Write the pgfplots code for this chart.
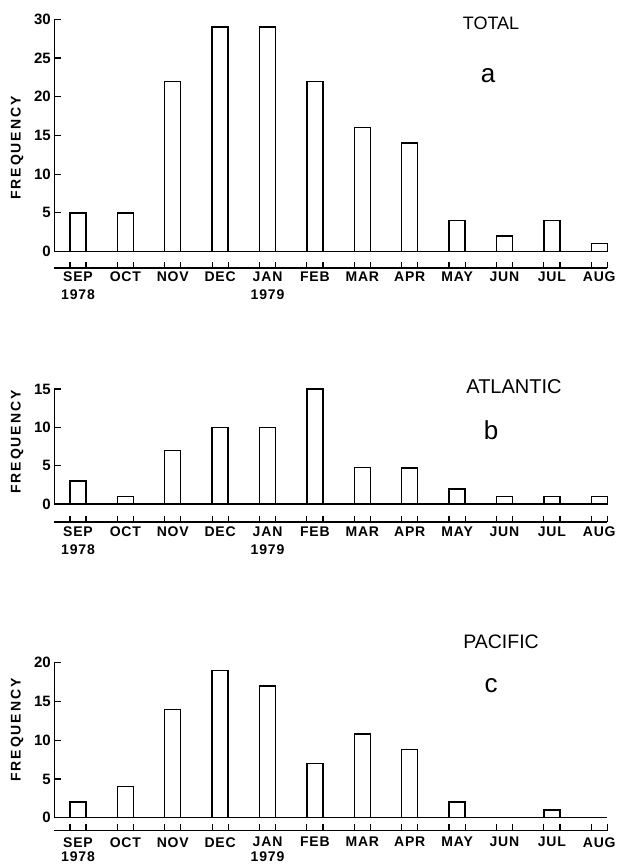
\documentclass[border=0pt]{standalone}
\usepackage{fontspec}
\setmainfont{Liberation Sans}
\usepackage{pgfplots}
\pgfplotsset{compat=1.18}
\begin{document}
\begin{tikzpicture}[x=1pt,y=1pt]
\path[use as bounding box] (0,0) rectangle (616,-867);
\pgfplotsset{
  panel/.style={
    scale only axis, width=553pt, xmin=-0.5, xmax=11.17, clip=false,
    axis x line*=bottom, axis y line*=left,
    x axis line style={-, line width=1.4pt},
    y axis line style={draw=none},
    tick align=inside, major tick length=6.5pt,
    tick style={line width=1.2pt, black},
    xtick={-0.17,0.17,0.83,1.17,1.83,2.17,2.83,3.17,3.83,4.17,4.83,5.17,5.83,6.17,6.83,7.17,7.83,8.17,8.83,9.17,9.83,10.17,10.83,11.17},
    xticklabels={},
    extra x ticks={0,1,2,3,4,5,6,7,8,9,10,11},
    extra x tick labels={{SEP\\1978},OCT,NOV,DEC,{JAN\\1979},FEB,MAR,APR,MAY,JUN,JUL,AUG},
    extra x tick style={major tick length=0pt},
    /pgf/number format/assume math mode=true,
    yticklabel style={font=\fontsize{15}{15}\selectfont\bfseries},
  },
  bars/.style={ybar, bar width=16pt, fill=white, draw=black, line width=1.4pt},
}
% ---------- panel a
\begin{axis}[panel, at={(54.3pt,-268pt)}, anchor=south west, height=248.7pt,
  ymin=-2.13, ymax=30, ytick={0,5,10,15,20,25,30},
  xticklabel style={align=center, font=\fontsize{14}{18}\selectfont\bfseries\addfontfeatures{LetterSpace=6}}]
\draw[line width=1.4pt] (axis cs:-0.5,0) -- (axis cs:11.17,0);
\draw[line width=1.4pt] (axis cs:-0.5,0) -- (axis cs:-0.5,30);
\addplot[bars] coordinates {(0,5) (1,5) (2,22) (3,29) (4,29) (5,22) (6,16) (7,14) (8,4) (9,2) (10,4) (11,1)};
\end{axis}
% ---------- panel b
\begin{axis}[panel, at={(54.3pt,-522pt)}, anchor=south west, height=133pt,
  ymin=-2.32, ymax=15, ytick={0,5,10,15},
  xticklabel style={align=center, font=\fontsize{14}{18}\selectfont\bfseries\addfontfeatures{LetterSpace=6}, yshift=-1.5pt}]
\draw[line width=1.4pt] (axis cs:-0.5,0) -- (axis cs:11.17,0);
\draw[line width=1.4pt] (axis cs:-0.5,0) -- (axis cs:-0.5,15);
\addplot[bars] coordinates {(0,3) (1,1) (2,7) (3,10) (4,10) (5,15) (6,4.8) (7,4.7) (8,2) (9,1) (10,1) (11,1)};
\end{axis}
% ---------- panel c
\begin{axis}[panel, at={(54.3pt,-830.7pt)}, anchor=south west, height=168pt,
  ymin=-1.68, ymax=20, ytick={0,5,10,15,20},
  xticklabel style={align=center, font=\fontsize{14}{14.5}\selectfont\bfseries\addfontfeatures{LetterSpace=6}, yshift=-3pt}]
\draw[line width=1.4pt] (axis cs:-0.5,0) -- (axis cs:11.17,0);
\draw[line width=1.4pt] (axis cs:-0.5,0) -- (axis cs:-0.5,20);
\addplot[bars] coordinates {(0,2) (1,4) (2,14) (3,19) (4,17) (5,7) (6,10.8) (7,8.8) (8,2) (10,1)};
\end{axis}
% ---------- labels
\node[rotate=90, font=\fontsize{14}{14}\selectfont\bfseries\addfontfeatures{LetterSpace=14}] at (17,-148) {FREQUENCY};
\node[rotate=90, font=\fontsize{14}{14}\selectfont\bfseries\addfontfeatures{LetterSpace=14}] at (17,-442) {FREQUENCY};
\node[rotate=90, font=\fontsize{14}{14}\selectfont\bfseries\addfontfeatures{LetterSpace=14}] at (17,-730) {FREQUENCY};
\node[font=\fontsize{18}{18}\selectfont] at (491,-23) {TOTAL};
\node[font=\fontsize{26}{26}\selectfont] at (488,-76) {a};
\node[font=\fontsize{20}{20}\selectfont] at (514,-387) {ATLANTIC};
\node[font=\fontsize{26}{26}\selectfont] at (491,-430) {b};
\node[font=\fontsize{19.5}{19.5}\selectfont] at (501,-642) {PACIFIC};
\node[font=\fontsize{26}{26}\selectfont] at (491,-686) {c};
\end{tikzpicture}
\end{document}
